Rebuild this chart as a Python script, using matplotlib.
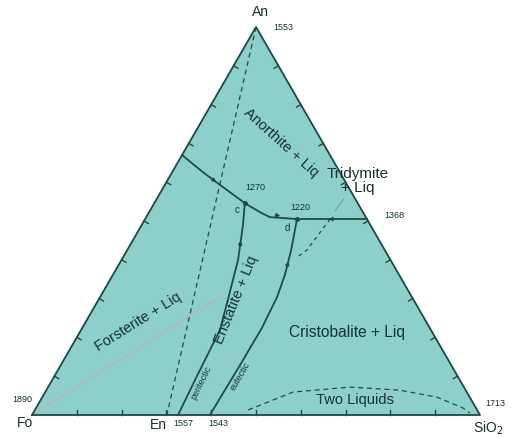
import numpy as np
import matplotlib
matplotlib.use("Agg")
from matplotlib import pyplot as plt

plt.rcParams['font.family'] = ['Liberation Sans', 'DejaVu Sans']

# compositions as (SiO2, An) weight fractions, Fo = 1 - SiO2 - An
fo_an_sio2 = [0.0, 0.07, 0.145, 0.202, 0.247, 0.276, 0.339]
fo_an_an = [0.67, 0.625, 0.58, 0.546, 0.523, 0.51, 0.505]

an_sio2_sio2 = [0.339, 0.495]
an_sio2_an = [0.505, 0.505]

perit_sio2 = [0.202, 0.226, 0.26, 0.289, 0.31, 0.318, 0.326]
perit_an = [0.546, 0.49, 0.40, 0.296, 0.219, 0.10, 0.0]

eut_sio2 = [0.339, 0.366, 0.384, 0.395, 0.401, 0.40, 0.397]
eut_an = [0.505, 0.425, 0.361, 0.304, 0.224, 0.129, 0.0]

trid_sio2 = [0.413, 0.401, 0.387]
trid_an = [0.505, 0.425, 0.405]

twoliq_sio2 = [0.476, 0.553, 0.674, 0.789, 0.881, 0.953, 0.975]
twoliq_an = [0.013, 0.059, 0.072, 0.064, 0.046, 0.018, 0.005]

join_sio2 = [0.0, 0.301]   # An - En join
join_an = [1.0, 0.0]

path_sio2 = [0.0, 0.268]   # crystallization path from Fo
path_an = [0.0, 0.304]

tick_frac = np.arange(0.1, 1.0, 0.1)

fill_c = '#8dd0cb'
line_c = '#1f4a48'
text_c = '#173030'


def tern(sio2, an):
    sio2 = np.asarray(sio2, float)
    an = np.asarray(an, float)
    return sio2 + an / 2, an * np.sqrt(3) / 2


def arrow(ax, s0, a0, s1, a1):
    # small arrowhead pointing from (s0,a0) towards (s1,a1), down temperature
    p0 = np.array(tern(s0, a0))
    p1 = np.array(tern(s1, a1))
    m = p0 + 0.55 * (p1 - p0)
    q = p0 + 0.45 * (p1 - p0)
    ax.annotate('', xy=m, xytext=q,
                arrowprops=dict(arrowstyle='-|>', color=line_c, lw=0.8,
                                mutation_scale=6, shrinkA=0, shrinkB=0))


fig = plt.figure(figsize=(5.11, 4.38), dpi=100)
ax = fig.add_axes([0, 0, 1, 1])
ax.set_xlim(-32 / 448, 479 / 448)
ax.set_ylim(-23 / 448, 415 / 448)
ax.axis('off')

# triangle
tx, ty = tern([0, 1, 0, 0], [0, 0, 1, 0])
ax.fill(tx, ty, color=fill_c, zorder=0)
ax.plot(tx, ty, color=line_c, lw=1.3, zorder=3)

# edge ticks pointing inward
corners = [tern(0, 0), tern(1, 0), tern(0, 1)]
cx, cy = tern(1 / 3, 1 / 3)
for i in range(3):
    p0 = np.array(corners[i], float)
    p1 = np.array(corners[(i + 1) % 3], float)
    for f in tick_frac:
        p = p0 + f * (p1 - p0)
        d = np.array([cx, cy]) - p
        n = np.array([-(p1 - p0)[1], (p1 - p0)[0]])
        n = n / np.linalg.norm(n)
        if np.dot(n, d) < 0:
            n = -n
        q = p + n * 0.011
        ax.plot([p[0], q[0]], [p[1], q[1]], color=line_c, lw=1.0, zorder=3)

# boundaries
x, y = tern(join_sio2, join_an)
ax.plot(x, y, color=line_c, lw=0.9, ls=(0, (4, 3)), zorder=2)
x, y = tern(path_sio2, path_an)
ax.plot(x, y, color='#b3b9b8', lw=1.3, zorder=1)
x, y = tern(fo_an_sio2, fo_an_an)
ax.plot(x, y, color=line_c, lw=1.3, zorder=2)
x, y = tern(an_sio2_sio2, an_sio2_an)
ax.plot(x, y, color=line_c, lw=1.3, zorder=2)
x, y = tern(perit_sio2, perit_an)
ax.plot(x, y, color=line_c, lw=1.3, zorder=2)
x, y = tern(eut_sio2, eut_an)
ax.plot(x, y, color=line_c, lw=1.3, zorder=2)
x, y = tern(trid_sio2, trid_an)
ax.plot(x, y, color=line_c, lw=0.9, ls=(0, (3, 3)), zorder=2)
x, y = tern(twoliq_sio2, twoliq_an)
ax.plot(x, y, color=line_c, lw=0.9, ls=(0, (4, 3)), zorder=2)

# arrows showing falling temperature
arrow(ax, fo_an_sio2[1], fo_an_an[1], fo_an_sio2[2], fo_an_an[2])
arrow(ax, fo_an_sio2[4], fo_an_an[4], fo_an_sio2[6], fo_an_an[6])
arrow(ax, an_sio2_sio2[1], an_sio2_an[1], an_sio2_sio2[0], an_sio2_an[0])
arrow(ax, perit_sio2[2], perit_an[2], perit_sio2[1], perit_an[1])
arrow(ax, eut_sio2[2], eut_an[2], eut_sio2[1], eut_an[1])

# invariant points
x, y = tern([fo_an_sio2[3], an_sio2_sio2[0]], [fo_an_an[3], an_sio2_an[0]])
ax.plot(x, y, 'o', color=line_c, ms=2.5, zorder=4)

# leader line for tridymite label
ax.annotate('', xy=tern(0.413, 0.52), xytext=tern(0.418, 0.563),
            arrowprops=dict(arrowstyle='-', color='#6a8c8a', lw=0.6))

# labels
kw = dict(color=text_c, ha='center', va='center')
ax.text(0.511, 0.900, 'An', fontsize=10, **kw)
ax.text(0.562, 0.864, '1553', fontsize=6.5, **kw)
ax.text(-0.016, -0.018, 'Fo', fontsize=10, **kw)
ax.text(-0.022, 0.034, '1890', fontsize=6.5, **kw)
ax.text(0.281, -0.022, 'En', fontsize=10, **kw)
ax.text(0.337, -0.018, '1557', fontsize=6.5, **kw)
ax.text(0.415, -0.020, '1543', fontsize=6.5, **kw)
ax.text(1.018, -0.030, 'SiO$_2$', fontsize=10, **kw)
ax.text(1.035, 0.025, '1713', fontsize=6.5, **kw)
ax.text(0.498, 0.507, '1270', fontsize=6.5, **kw)
ax.text(0.598, 0.464, '1220', fontsize=6.5, **kw)
ax.text(0.808, 0.446, '1368', fontsize=6.5, **kw)
ax.text(0.458, 0.458, 'c', fontsize=7, **kw)
ax.text(0.569, 0.417, 'd', fontsize=7, **kw)

ax.text(0.556, 0.607, 'Anorthite + Liq', fontsize=10.5, rotation=-42, **kw)
ax.text(0.727, 0.522, 'Tridymite\n+ Liq', fontsize=11, linespacing=1.0, **kw)
ax.text(0.237, 0.208, 'Forsterite + Liq', fontsize=10.5, rotation=32, **kw)
ax.text(0.455, 0.257, 'Enstatite + Liq', fontsize=10.5, rotation=68, **kw)
ax.text(0.703, 0.185, 'Cristobalite + Liq', fontsize=11.2, **kw)
ax.text(0.721, 0.034, 'Two Liquids', fontsize=10.5, **kw)
ax.text(0.377, 0.071, 'peritectic', fontsize=6.5, rotation=64, **kw)
ax.text(0.464, 0.087, 'eutectic', fontsize=6.5, rotation=60, **kw)

fig.savefig('out.png', dpi=100)
